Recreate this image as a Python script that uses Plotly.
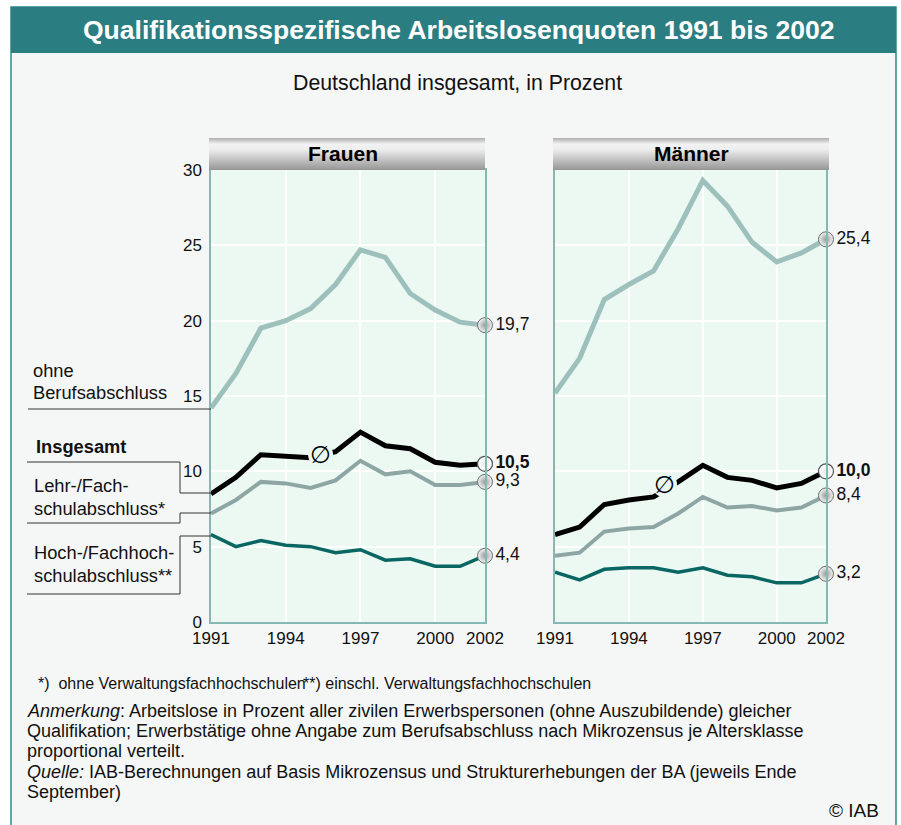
import plotly.graph_objects as go

W, H = 901, 825

# ---------------- data ----------------
years = list(range(1991, 2003))
frauen_ohne = [14.2, 16.5, 19.5, 20.0, 20.8, 22.4, 24.7, 24.2, 21.8, 20.7, 19.9, 19.7]
frauen_insg = [8.5, 9.6, 11.1, 11.0, 10.9, 11.3, 12.6, 11.7, 11.5, 10.6, 10.4, 10.5]
frauen_lehr = [7.2, 8.1, 9.3, 9.2, 8.9, 9.4, 10.7, 9.8, 10.0, 9.1, 9.1, 9.3]
frauen_hoch = [5.8, 5.0, 5.4, 5.1, 5.0, 4.6, 4.8, 4.1, 4.2, 3.7, 3.7, 4.4]
maenner_ohne = [15.2, 17.5, 21.4, 22.4, 23.3, 26.1, 29.3, 27.6, 25.2, 23.9, 24.5, 25.4]
maenner_insg = [5.8, 6.3, 7.8, 8.1, 8.3, 9.3, 10.4, 9.6, 9.4, 8.9, 9.2, 10.0]
maenner_lehr = [4.4, 4.6, 6.0, 6.2, 6.3, 7.2, 8.3, 7.6, 7.7, 7.4, 7.6, 8.4]
maenner_hoch = [3.3, 2.8, 3.5, 3.6, 3.6, 3.3, 3.6, 3.1, 3.0, 2.6, 2.6, 3.2]

x_tick_vals = [1991, 1994, 1997, 2000, 2002]
y_tick_vals = [0, 5, 10, 15, 20, 25, 30]
panel_titles = ["Frauen", "Männer"]
avg_symbol_x = [1995.4, 1995.45]
avg_symbol_y = [11.1, 9.1]

title_text = "Qualifikationsspezifische Arbeitslosenquoten 1991 bis 2002"
subtitle_text = "Deutschland insgesamt, in Prozent"

# ---------------- helpers ----------------
def X(px):
    return px / W

def Y(py):
    return 1 - py / H

def fmt(v):
    return f"{v:.1f}".replace(".", ",")

FONT = "Arial, Liberation Sans, sans-serif"
PLOT_BG = "#ecf9f3"
TEAL = "#2a7d80"

styles = {
    "ohne": dict(color="#9dc0bc", width=5),
    "lehr": dict(color="#8ea6a3", width=4),
    "hoch": dict(color="#0a6663", width=3.5),
    "insg": dict(color="#000000", width=5),
}

panels = [
    ("x", "y", {"ohne": frauen_ohne, "lehr": frauen_lehr, "hoch": frauen_hoch, "insg": frauen_insg}),
    ("x2", "y2", {"ohne": maenner_ohne, "lehr": maenner_lehr, "hoch": maenner_hoch, "insg": maenner_insg}),
]

fig = go.Figure()

for pi, (xa, ya, data) in enumerate(panels):
    for key in ["ohne", "lehr", "hoch", "insg"]:
        fig.add_trace(go.Scatter(
            x=years, y=data[key], mode="lines", xaxis=xa, yaxis=ya,
            line=dict(color=styles[key]["color"], width=styles[key]["width"]),
            showlegend=False, hoverinfo="skip", cliponaxis=False,
        ))
    # gap in the average line behind the Ø sign
    fig.add_trace(go.Scatter(
        x=[avg_symbol_x[pi]], y=[avg_symbol_y[pi]], mode="markers", xaxis=xa, yaxis=ya,
        marker=dict(size=25, color=PLOT_BG, line=dict(width=0)),
        showlegend=False, hoverinfo="skip", cliponaxis=False,
    ))
    # end markers and labels
    for key in ["ohne", "lehr", "hoch", "insg"]:
        v = data[key][-1]
        txt = f"<b>{fmt(v)}</b>" if key == "insg" else fmt(v)
        if key == "insg":
            mk = dict(size=15, color="white", gradient=dict(type="radial", color="#e8e8e8"),
                      line=dict(color="#555555", width=1.2))
        else:
            mk = dict(size=15, color="#f4f4f4", gradient=dict(type="radial", color="#9a9a9a"),
                      line=dict(color="#6a6a6a", width=1))
        fig.add_trace(go.Scatter(
            x=[years[-1]], y=[v], mode="markers+text", xaxis=xa, yaxis=ya,
            marker=mk, text=[txt], textposition="middle right",
            textfont=dict(family=FONT, size=17.5, color="#111111"),
            showlegend=False, hoverinfo="skip", cliponaxis=False,
        ))

axis_common = dict(
    showgrid=True, gridcolor="white", gridwidth=2, zeroline=False,
    showline=True, linecolor="#86b8b3", linewidth=1.5, mirror=True,
    ticks="", fixedrange=True, automargin=False,
)

shapes = []
# white outside the frame
shapes.append(dict(type="rect", xref="paper", yref="paper", x0=0, x1=1, y0=Y(7), y1=1,
                   fillcolor="white", line=dict(width=0)))
shapes.append(dict(type="rect", xref="paper", yref="paper", x0=0, x1=X(11), y0=0, y1=1,
                   fillcolor="white", line=dict(width=0)))
shapes.append(dict(type="rect", xref="paper", yref="paper", x0=X(896), x1=1, y0=0, y1=1,
                   fillcolor="white", line=dict(width=0)))
# frame border (runs past the bottom edge)
shapes.append(dict(type="rect", xref="paper", yref="paper", x0=X(11), x1=X(896), y0=Y(845), y1=Y(7),
                   fillcolor="rgba(0,0,0,0)", line=dict(color="#2a8a8a", width=1.5)))
# title bar
shapes.append(dict(type="rect", xref="paper", yref="paper", x0=X(11), x1=X(896), y0=Y(53), y1=Y(7),
                   fillcolor=TEAL, line=dict(width=0)))

# header gradient bars
def grey_at(t):
    stops = [(0.0, 180), (0.18, 242), (0.35, 238), (1.0, 152)]
    for (t0, c0), (t1, c1) in zip(stops[:-1], stops[1:]):
        if t0 <= t <= t1:
            c = c0 + (c1 - c0) * (t - t0) / (t1 - t0)
            c = int(round(c))
            return f"rgb({c},{c},{c})"
    return "rgb(152,152,152)"

header_x = [(209, 485), (553, 829)]
hy0, hy1 = 138, 170
n_strips = hy1 - hy0
for (hx0, hx1) in header_x:
    for i in range(n_strips):
        t = i / (n_strips - 1)
        shapes.append(dict(type="rect", xref="paper", yref="paper",
                           x0=X(hx0), x1=X(hx1), y0=Y(hy0 + i + 1), y1=Y(hy0 + i),
                           fillcolor=grey_at(t), line=dict(width=0)))

# leader lines for the left labels
def seg(x0, y0, x1, y1):
    shapes.append(dict(type="line", xref="paper", yref="paper",
                       x0=X(x0), y0=Y(y0), x1=X(x1), y1=Y(y1),
                       line=dict(color="#333333", width=1)))

seg(28, 409, 211, 409)
seg(27, 462, 180, 462); seg(180, 462, 180, 493); seg(180, 493, 211, 493)
seg(27, 523, 180, 523); seg(180, 523, 180, 513); seg(180, 513, 211, 513)
seg(180, 536, 211, 536); seg(180, 536, 180, 594); seg(27, 594, 180, 594)

annotations = []

def ann(text, x, y, size, xanchor="left", color="#111111", family=FONT, yanchor="middle", xref="paper", yref="paper"):
    annotations.append(dict(text=text, x=x, y=y, xref=xref, yref=yref, showarrow=False,
                            xanchor=xanchor, yanchor=yanchor,
                            font=dict(family=family, size=size, color=color)))

ann(f"<b>{title_text}</b>", X(459), Y(30), 26.5, xanchor="center", color="white")
ann(subtitle_text, X(457), Y(83), 21.3, xanchor="center")
ann(f"<b>{panel_titles[0]}</b>", X(343), Y(154), 21, xanchor="center", color="black")
ann(f"<b>{panel_titles[1]}</b>", X(691), Y(154), 21, xanchor="center", color="black")

# left labels
LBL = 18.3
ann("ohne", X(31), Y(370), LBL)
ann("Berufsabschluss", X(31), Y(393), LBL)
ann("<b>Insgesamt</b>", X(34), Y(446), LBL)
ann("Lehr-/Fach-", X(32), Y(485), LBL)
ann("schulabschluss*", X(32), Y(508), LBL)
ann("Hoch-/Fachhoch-", X(32), Y(552), LBL)
ann("schulabschluss**", X(32), Y(575), LBL)

# Ø signs
for pi, (xa, ya) in enumerate([("x", "y"), ("x2", "y2")]):
    ann("∅", avg_symbol_x[pi], avg_symbol_y[pi], 24, xanchor="center", color="black",
        family="DejaVu Sans, sans-serif", xref=xa, yref=ya)

# footnotes
ann("*)  ohne Verwaltungsfachhochschulen", X(36), Y(683), 16)
ann("**) einschl. Verwaltungsfachhochschulen", X(301), Y(683), 16)
NOTE = 18
ann("<i>Anmerkung</i>: Arbeitslose in Prozent aller zivilen Erwerbspersonen (ohne Auszubildende) gleicher",
    X(25), Y(711), NOTE)
ann("Qualifikation; Erwerbstätige ohne Angabe zum Berufsabschluss nach Mikrozensus je Altersklasse",
    X(25), Y(731), NOTE)
ann("proportional verteilt.", X(25), Y(751), NOTE)
ann("<i>Quelle:</i> IAB-Berechnungen auf Basis Mikrozensus und Strukturerhebungen der BA (jeweils Ende",
    X(25), Y(772), NOTE)
ann("September)", X(25), Y(792), NOTE)
ann("© IAB", X(881), Y(810), 19, xanchor="right")

fig.update_layout(
    width=W, height=H, autosize=False,
    margin=dict(l=0, r=0, t=0, b=0, pad=0, autoexpand=False),
    paper_bgcolor="#f5f7f6", plot_bgcolor=PLOT_BG,
    font=dict(family=FONT, color="#111111"),
    showlegend=False,
    xaxis=dict(domain=[X(211), X(485)], range=[1991, 2002], tickvals=x_tick_vals,
               tickfont=dict(size=17, color="#111111"), anchor="y", **axis_common),
    yaxis=dict(domain=[Y(622), Y(170)], range=[0, 30], tickvals=y_tick_vals,
               tickfont=dict(size=17, color="#111111"), ticklabelstandoff=4, anchor="x", **axis_common),
    xaxis2=dict(domain=[X(555), X(826)], range=[1991, 2002], tickvals=x_tick_vals,
                tickfont=dict(size=17, color="#111111"), anchor="y2", **axis_common),
    yaxis2=dict(domain=[Y(622), Y(170)], range=[0, 30], tickvals=y_tick_vals,
                showticklabels=False, anchor="x2", **axis_common),
    shapes=shapes,
    annotations=annotations,
)

fig.write_html("out.html", config={"displayModeBar": False},
               post_script="document.body.style.margin='0';")
